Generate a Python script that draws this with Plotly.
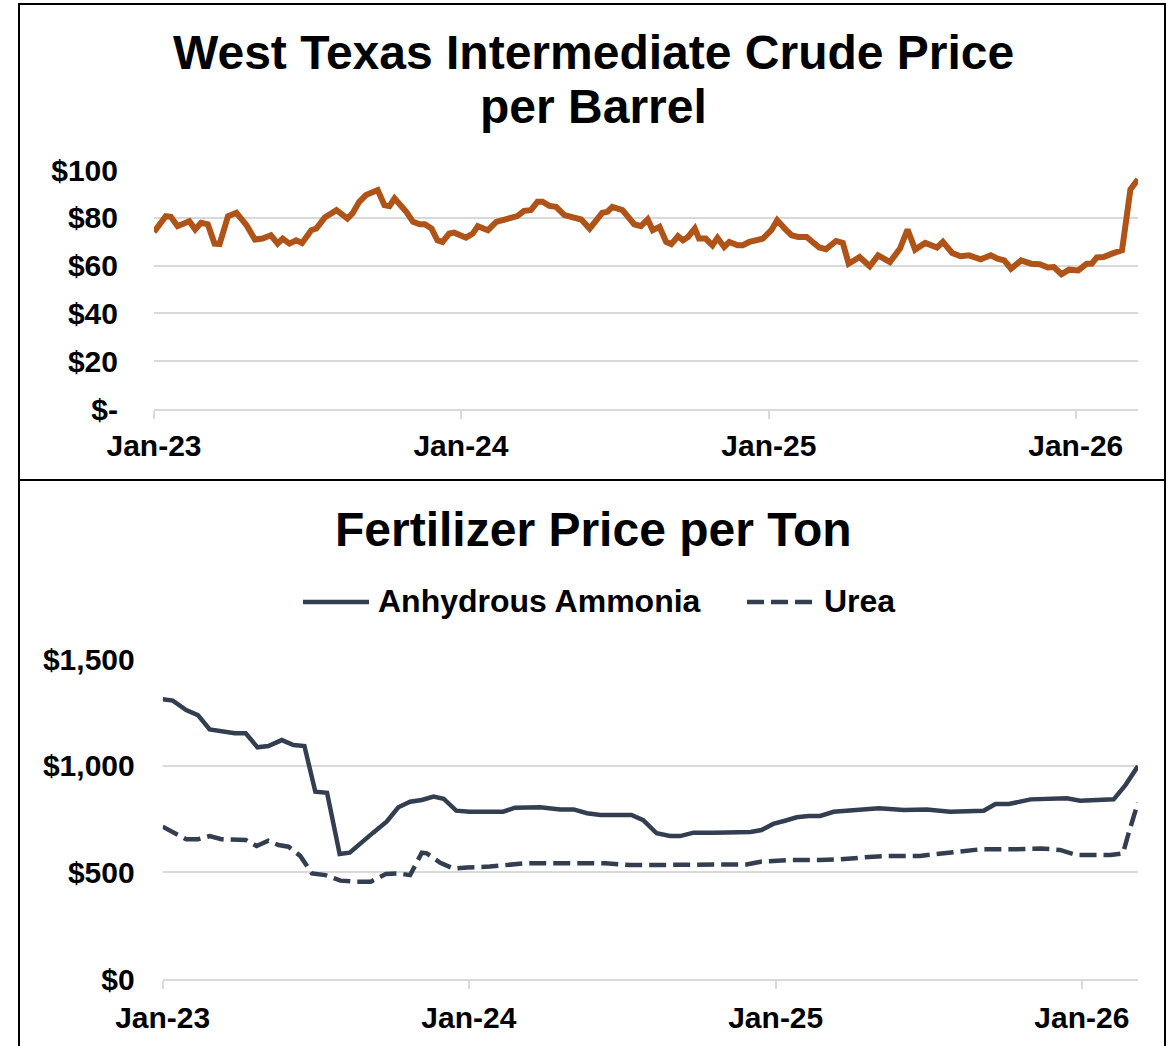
import plotly.graph_objects as go
from plotly.subplots import make_subplots

W, H = 1173, 1046
FONT = "Liberation Sans, Arial, sans-serif"
WTI_COLOR = "#B05318"
FERT_COLOR = "#333F50"
GRID = "#D9D9D9"

# WTI crude, $ per barrel
wti_dates = [
    "2023-01-01", "2023-01-15", "2023-01-21", "2023-01-29", "2023-02-12", "2023-02-19", "2023-02-26",
    "2023-03-06", "2023-03-14", "2023-03-20", "2023-03-30", "2023-04-09", "2023-04-21", "2023-05-01",
    "2023-05-10", "2023-05-20", "2023-05-28", "2023-06-03", "2023-06-11", "2023-06-19", "2023-06-26",
    "2023-07-07", "2023-07-13", "2023-07-23", "2023-08-06", "2023-08-19", "2023-08-25", "2023-09-02",
    "2023-09-10", "2023-09-24", "2023-10-02", "2023-10-08", "2023-10-14", "2023-10-28", "2023-11-05",
    "2023-11-13", "2023-11-19", "2023-11-27", "2023-12-04", "2023-12-10", "2023-12-18", "2023-12-24",
    "2024-01-07", "2024-01-15", "2024-01-21", "2024-02-02", "2024-02-12", "2024-02-22", "2024-03-02",
    "2024-03-08", "2024-03-16", "2024-03-24", "2024-04-01", "2024-04-07", "2024-04-15", "2024-04-23",
    "2024-05-03", "2024-05-09", "2024-05-17", "2024-05-23", "2024-06-02", "2024-06-10", "2024-06-17",
    "2024-06-23", "2024-06-29", "2024-07-11", "2024-07-17", "2024-07-25", "2024-08-02", "2024-08-10",
    "2024-08-16", "2024-08-24", "2024-09-01", "2024-09-07", "2024-09-15", "2024-09-21", "2024-09-27",
    "2024-10-05", "2024-10-10", "2024-10-18", "2024-10-26", "2024-11-01", "2024-11-09", "2024-11-15",
    "2024-11-25", "2024-12-01", "2024-12-09", "2024-12-19", "2024-12-25", "2025-01-04", "2025-01-11",
    "2025-01-20", "2025-01-28", "2025-02-05", "2025-02-15", "2025-02-22", "2025-03-02", "2025-03-10",
    "2025-03-22", "2025-03-30", "2025-04-06", "2025-04-19", "2025-05-01", "2025-05-11", "2025-05-25",
    "2025-06-06", "2025-06-15", "2025-06-24", "2025-07-06", "2025-07-20", "2025-07-27", "2025-08-07",
    "2025-08-17", "2025-08-27", "2025-09-10", "2025-09-22", "2025-09-30", "2025-10-08", "2025-10-16",
    "2025-10-28", "2025-11-09", "2025-11-19", "2025-11-29", "2025-12-06", "2025-12-15", "2025-12-24",
    "2026-01-04", "2026-01-14", "2026-01-20", "2026-01-26", "2026-02-03", "2026-02-13", "2026-02-25",
    "2026-03-07", "2026-03-16",
]
wti_price = [
    74.1, 80.7, 80.4, 76.5, 78.6, 75.1, 77.9,
    77.3, 69.2, 69.0, 80.7, 82.1, 76.9, 70.9,
    71.3, 72.7, 69.2, 71.3, 69.2, 70.6, 69.5,
    74.8, 75.5, 80.1, 83.2, 79.7, 81.8, 86.7,
    89.5, 91.6, 85.3, 84.9, 88.1, 82.5, 78.3,
    77.3, 77.3, 75.5, 70.6, 69.9, 73.4, 73.8,
    71.7, 73.4, 76.5, 74.8, 78.3, 79.3, 80.1,
    80.7, 82.9, 83.2, 86.7, 86.7, 85.0, 84.6,
    81.1, 80.4, 79.7, 79.3, 75.5, 79.0, 82.1,
    82.5, 84.6, 83.2, 80.4, 77.3, 76.5, 79.3,
    74.8, 76.2, 69.9, 69.0, 72.3, 70.6, 72.0,
    75.5, 71.3, 71.3, 68.5, 71.6, 67.8, 69.9,
    68.5, 68.5, 69.9, 70.6, 71.3, 74.8, 79.0,
    75.5, 72.7, 72.0, 72.0, 69.9, 67.6, 66.9,
    70.3, 69.5, 60.8, 63.6, 59.7, 64.3, 61.5,
    67.1, 75.1, 66.7, 69.5, 67.6, 69.9, 65.3,
    63.9, 64.3, 62.6, 64.3, 62.9, 62.2, 58.7,
    62.2, 60.8, 60.6, 59.2, 59.4, 56.4, 58.3,
    58.0, 60.8, 60.8, 63.4, 63.6, 65.0, 66.4,
    91.9, 96.1,
]

# Anhydrous ammonia, $ per ton
nh3_dates = [
    "2023-01-01", "2023-01-13", "2023-01-29", "2023-02-12", "2023-02-26", "2023-03-12", "2023-03-28",
    "2023-04-10", "2023-04-24", "2023-05-07", "2023-05-23", "2023-06-06", "2023-06-19", "2023-07-02",
    "2023-07-16", "2023-07-31", "2023-08-12", "2023-09-09", "2023-09-25", "2023-10-09", "2023-10-23",
    "2023-11-06", "2023-11-20", "2023-12-02", "2023-12-17", "2024-01-02", "2024-01-26", "2024-02-11",
    "2024-02-25", "2024-03-26", "2024-04-19", "2024-05-05", "2024-05-21", "2024-06-06", "2024-07-13",
    "2024-07-27", "2024-08-12", "2024-08-28", "2024-09-09", "2024-09-25", "2024-10-19", "2024-11-12",
    "2024-12-02", "2024-12-15", "2024-12-29", "2025-01-12", "2025-01-26", "2025-02-09", "2025-02-23",
    "2025-03-11", "2025-04-04", "2025-05-04", "2025-06-03", "2025-06-30", "2025-07-28", "2025-09-06",
    "2025-09-20", "2025-10-06", "2025-11-01", "2025-11-28", "2025-12-14", "2025-12-30", "2026-01-15",
    "2026-02-08", "2026-02-22", "2026-03-09",
]
nh3_price = [
    1311, 1305, 1261, 1237, 1170, 1164, 1152,
    1152, 1086, 1092, 1120, 1097, 1092, 878,
    873, 586, 592, 686, 737, 805, 831,
    839, 855, 845, 789, 784, 784, 784,
    803, 805, 795, 795, 777, 769, 769,
    745, 683, 670, 670, 686, 686, 686,
    689, 698, 727, 742, 758, 764, 764,
    784, 789, 800, 792, 795, 784, 789,
    820, 820, 842, 847, 847, 836, 839,
    842, 909, 998,
]

# Urea, $ per ton
urea_dates = [
    "2023-01-01", "2023-01-13", "2023-01-29", "2023-02-12", "2023-02-26", "2023-03-12", "2023-03-28",
    "2023-04-10", "2023-04-23", "2023-05-07", "2023-05-19", "2023-05-31", "2023-06-14", "2023-06-28",
    "2023-07-14", "2023-08-01", "2023-08-21", "2023-09-06", "2023-09-24", "2023-10-09", "2023-10-23",
    "2023-11-06", "2023-11-12", "2023-11-28", "2023-12-14", "2023-12-30", "2024-01-26", "2024-02-11",
    "2024-03-07", "2024-04-25", "2024-06-12", "2024-07-11", "2024-08-08", "2024-10-27", "2024-11-27",
    "2024-12-14", "2025-01-04", "2025-01-17", "2025-02-23", "2025-03-19", "2025-04-16", "2025-05-14",
    "2025-06-22", "2025-07-16", "2025-08-09", "2025-09-02", "2025-10-12", "2025-11-13", "2025-12-06",
    "2025-12-26", "2026-02-04", "2026-02-19", "2026-02-26", "2026-03-09",
]
urea_price = [
    714, 691, 655, 655, 670, 655, 652,
    652, 623, 648, 628, 620, 577, 495,
    487, 461, 456, 456, 492, 495, 487,
    592, 589, 545, 517, 523, 527, 534,
    542, 542, 542, 534, 534, 537, 537,
    550, 555, 558, 558, 561, 570, 577,
    577, 586, 597, 608, 608, 612, 605,
    581, 581, 589, 686, 827,
]

year_ticks = ["2023-01-01", "2024-01-01", "2025-01-01", "2026-01-01"]
year_labels = ["Jan-23", "Jan-24", "Jan-25", "Jan-26"]
wti_ticks = [0, 20, 40, 60, 80, 100]
wti_labels = ["$-", "$20", "$40", "$60", "$80", "$100"]
fert_ticks = [0, 500, 1000, 1500]
fert_labels = ["$0", "$500", "$1,000", "$1,500"]


def px(x):
    return x / W


def py(y):
    return 1 - y / H


fig = make_subplots(rows=2, cols=1)

fig.add_trace(go.Scatter(x=wti_dates, y=wti_price, mode="lines", name="WTI",
                         line=dict(color=WTI_COLOR, width=6)), row=1, col=1)
fig.add_trace(go.Scatter(x=nh3_dates, y=nh3_price, mode="lines", name="Anhydrous Ammonia",
                         line=dict(color=FERT_COLOR, width=4.5)), row=2, col=1)
fig.add_trace(go.Scatter(x=urea_dates, y=urea_price, mode="lines", name="Urea",
                         line=dict(color=FERT_COLOR, width=4.5, dash="17px,7px")), row=2, col=1)

tickfont = dict(family=FONT, size=30, color="black", weight="bold")

xcommon = dict(type="date", tickvals=year_ticks, ticktext=year_labels, showgrid=False,
               showline=True, linecolor=GRID, linewidth=1.5, ticks="outside", ticklen=8,
               tickcolor=GRID, tickwidth=1.5, tickfont=tickfont, zeroline=False)
ycommon = dict(showgrid=True, gridcolor=GRID, gridwidth=1.5, zeroline=False, showline=False,
               ticks="", tickfont=tickfont)

fig.update_layout(
    template="none",
    width=W, height=H,
    margin=dict(l=0, r=0, t=0, b=0),
    paper_bgcolor="white", plot_bgcolor="white",
    showlegend=False,
    xaxis=dict(xcommon, domain=[px(154), px(1138)], range=["2023-01-01", "2026-03-16"],
               ticklabelstandoff=1),
    yaxis=dict(ycommon, domain=[py(409), py(170)], range=[0, 100], tickvals=wti_ticks,
               ticktext=wti_labels, ticklabelstandoff=35),
    xaxis2=dict(xcommon, domain=[px(162.7), px(1138)], range=["2023-01-01", "2026-03-09"],
                ticklabelstandoff=3),
    yaxis2=dict(ycommon, domain=[py(979), py(659)], range=[0, 1500], tickvals=fert_ticks,
                ticktext=fert_labels, ticklabelstandoff=27),
)

# titles
title_font = dict(family=FONT, size=48, color="black", weight="bold")
for text, cy in [("West Texas Intermediate Crude Price", 52.5), ("per Barrel", 106.5),
                 ("Fertilizer Price per Ton", 529)]:
    fig.add_annotation(text=text, x=px(593.5), y=py(cy), xref="paper", yref="paper",
                       xanchor="center", yanchor="middle", showarrow=False, font=title_font)

# legend drawn by hand to get the long line samples
leg_font = dict(family=FONT, size=32, color="black", weight="bold")
fig.add_shape(type="line", xref="paper", yref="paper", x0=px(303), x1=px(369), y0=py(602), y1=py(602),
              line=dict(color=FERT_COLOR, width=4.5))
fig.add_shape(type="line", xref="paper", yref="paper", x0=px(747), x1=px(812), y0=py(602), y1=py(602),
              line=dict(color=FERT_COLOR, width=4.5, dash="17px,7px"))
fig.add_annotation(text="Anhydrous Ammonia", x=px(376), y=py(601), xref="paper", yref="paper",
                   xanchor="left", yanchor="middle", showarrow=False, font=leg_font)
fig.add_annotation(text="Urea", x=px(822), y=py(601), xref="paper", yref="paper",
                   xanchor="left", yanchor="middle", showarrow=False, font=leg_font)

# panel borders
border = dict(color="black", width=2)
fig.add_shape(type="rect", xref="paper", yref="paper", x0=px(19), x1=px(1165), y0=py(4), y1=py(480),
              line=border, layer="above")
fig.add_shape(type="rect", xref="paper", yref="paper", x0=px(19), x1=px(1165), y0=py(480), y1=py(1060),
              line=border, layer="above")

fig.write_html("out.html", config={"displayModeBar": False},
               post_script="document.body.style.margin='0';document.body.style.overflow='hidden';")
